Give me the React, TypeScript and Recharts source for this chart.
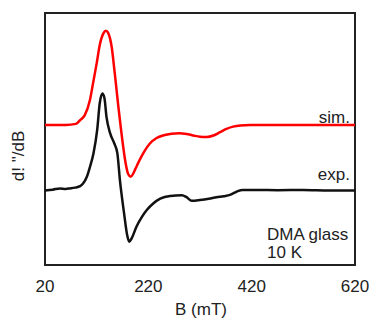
import React from 'react';
import { LineChart, Line, XAxis, YAxis, ReferenceArea } from 'recharts';

// simulated spectrum (red)
const simField = [20, 60, 80, 88, 97, 107, 113, 120, 126, 133, 138, 142, 149, 155, 162, 168, 175, 181, 186, 191, 196, 203, 212, 223, 236, 250, 265, 280, 294, 307, 320, 333, 346, 358, 370, 384, 398, 417, 470, 540, 620];
const simSignal = [55.6, 55.6, 56.0, 57.5, 59.5, 65.5, 72.1, 80.0, 87.3, 91.9, 93.0, 92.2, 86.6, 76.1, 62.8, 52.3, 41.7, 36.1, 35.0, 36.4, 38.6, 41.6, 45.0, 48.2, 50.4, 51.5, 52.1, 52.3, 52.0, 51.4, 50.9, 50.8, 51.4, 52.6, 53.9, 54.9, 55.4, 55.6, 55.6, 55.6, 55.6];

// experimental spectrum (black)
const expField = [20, 35, 49, 60, 68, 78, 88, 94, 101, 107, 114, 121, 126, 131, 135, 139, 146, 154, 160, 165, 173, 179, 183, 188, 197, 207, 217, 230, 243, 262, 285, 294, 304, 320, 337, 352, 366, 378, 386, 393, 403, 430, 470, 520, 570, 620];
const expSignal = [29.6, 29.9, 30.4, 30.2, 30.4, 30.7, 31.3, 32.4, 35.0, 38.9, 44.4, 53.6, 64.3, 68.1, 66.3, 58.8, 52.3, 48.3, 44.4, 33.7, 20.6, 11.9, 9.2, 10.7, 15.2, 18.9, 21.8, 24.5, 26.3, 27.4, 27.7, 26.9, 25.5, 25.8, 26.3, 26.9, 27.3, 27.8, 28.6, 29.3, 29.8, 29.8, 29.7, 29.8, 29.6, 29.6];

const xTicks = [20, 220, 420, 620];

const simData = simField.map((b, i) => ({ b, v: simSignal[i] }));
const expData = expField.map((b, i) => ({ b, v: expSignal[i] }));

const font = '"Liberation Sans", Arial, sans-serif';
const ink = '#222';

export default function App() {
  return (
    <div style={{ position: 'absolute', left: 0, top: 0, width: 372, height: 322, background: '#fff' }}>
      <LineChart width={372} height={322} margin={{ top: 13, right: 17, bottom: 0, left: 45 }}>
        <XAxis
          type="number"
          dataKey="b"
          domain={[20, 620]}
          ticks={xTicks}
          axisLine={false}
          tickLine={false}
          tickSize={0}
          tickMargin={15}
          height={57}
          tick={{ fontSize: 17, fill: ink, fontFamily: font }}
          allowDuplicatedCategory={false}
        />
        <YAxis type="number" domain={[0, 100]} hide />
        <ReferenceArea x1={20} x2={620} y1={0} y2={100} fill="none" stroke={ink} strokeWidth={2} />
        <Line data={simData} dataKey="v" type="monotone" stroke="#ff0000" strokeWidth={2.5} dot={false} isAnimationActive={false} />
        <Line data={expData} dataKey="v" type="monotone" stroke="#111" strokeWidth={2.5} dot={false} isAnimationActive={false} />
      </LineChart>
      <svg width={372} height={322} style={{ position: 'absolute', left: 0, top: 0, pointerEvents: 'none' }}>
        <g fontFamily={font} fontSize={17} fill={ink}>
          <text x={350} y={123} textAnchor="end">sim.</text>
          <text x={350} y={180} textAnchor="end">exp.</text>
          <text x={267} y={240}>DMA glass</text>
          <text x={267} y={258}>10 K</text>
          <text x={201} y={315} textAnchor="middle">B (mT)</text>
          <text x={0} y={0} textAnchor="middle" transform="translate(24 156) rotate(-90)">d! "/dB</text>
        </g>
      </svg>
    </div>
  );
}
